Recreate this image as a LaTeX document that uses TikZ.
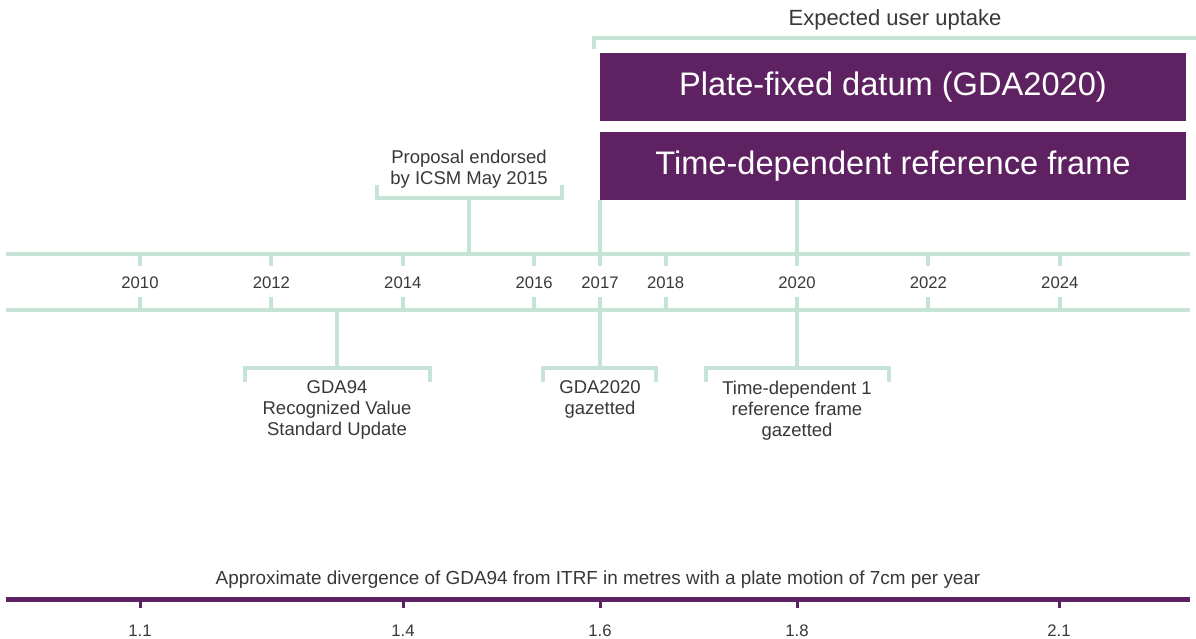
\documentclass[tikz,border=0pt]{standalone}
\usepackage{fontspec}
\setmainfont{Liberation Sans}
\definecolor{mint}{HTML}{C6E4D6}
\definecolor{plum}{HTML}{5E2262}
\definecolor{txt}{HTML}{383838}
\begin{document}
\begin{tikzpicture}[x=1pt,y=-1pt,
  mline/.style={draw=mint, line width=4pt},
  lbl/.style={text=txt, inner sep=0pt, align=center, font=\fontsize{18.5}{21}\selectfont},
  yr/.style={text=txt, inner sep=0pt, font=\fontsize{16.7}{20}\selectfont},
  box/.style={fill=plum, text=white, minimum width=586pt, minimum height=68pt, inner sep=0pt, font=\fontsize{32.6}{38}\selectfont},
  paxis/.style={draw=plum, line width=5pt},
  ptick/.style={draw=plum, line width=3pt},
]
\useasboundingbox (0,0) rectangle (1196,639);

% main timeline rails
\coordinate (tL) at (6,254);  \coordinate (tR) at (1190,254);
\coordinate (bL) at (6,310);  \coordinate (bR) at (1190,310);
\draw[mline] (tL) -- (tR);
\draw[mline] (bL) -- (bR);

% years with ticks
\foreach \yy/\xx in {2010/140,2012/271.4,2014/402.8,2016/534.2,2017/600,2018/665.6,2020/797,2022/928.4,2024/1059.8}{
  \node[yr] (y\yy) at (\xx,283) {\yy};
  \coordinate (ut\yy) at (\xx,254);
  \coordinate (ub\yy) at (\xx,266);
  \coordinate (lt\yy) at (\xx,297);
  \coordinate (lb\yy) at (\xx,310);
  \draw[mline] (ut\yy) -- (ub\yy);
  \draw[mline] (lt\yy) -- (lb\yy);
}

% boxes
\node[box] (pf) at (893,87) {Plate-fixed datum (GDA2020)};
\node[box] (td) at (893,166) {Time-dependent reference frame};
\coordinate (s17) at (600,252);
\coordinate (s20) at (797,252);
\draw[mline] (td.south -| s17) -- (s17);
\draw[mline] (td.south -| s20) -- (s20);

% expected user uptake bracket
\node[text=txt, inner sep=0pt, font=\fontsize{22}{26}\selectfont] (exp) at (895,20) {Expected user uptake};
\coordinate (eL) at (594,49);
\coordinate (eC) at (594,38);
\coordinate (eR) at (1196,38);
\draw[mline] (eL) -- (eC) -- (eR);

% proposal bracket (above)
\node[lbl, anchor=north] (prop) at (469,150) {Proposal endorsed\\by ICSM May 2015};
\coordinate (pL) at (377,185); \coordinate (pLc) at (377,198);
\coordinate (pR) at (562,185); \coordinate (pRc) at (562,198);
\coordinate (pM) at (469,198); \coordinate (p15) at (469,252);
\draw[mline] (pL) -- (pLc) -- (pRc) -- (pR);
\draw[mline] (pM) -- (p15);

% below brackets
\node[lbl, anchor=north] (g94) at (337,380.5) {GDA94\\Recognized Value\\Standard Update};
\coordinate (g94L) at (245,382); \coordinate (g94Lc) at (245,368);
\coordinate (g94R) at (430,382); \coordinate (g94Rc) at (430,368);
\coordinate (g94M) at (337,368); \coordinate (g94T) at (337,312);
\draw[mline] (g94L) -- (g94Lc) -- (g94Rc) -- (g94R);
\draw[mline] (g94M) -- (g94T);

\node[lbl, anchor=north] (g20) at (600,380.5) {GDA2020\\gazetted};
\coordinate (g20L) at (543,382); \coordinate (g20Lc) at (543,368);
\coordinate (g20R) at (656,382); \coordinate (g20Rc) at (656,368);
\coordinate (g20M) at (600,368); \coordinate (g20T) at (600,312);
\draw[mline] (g20L) -- (g20Lc) -- (g20Rc) -- (g20R);
\draw[mline] (g20M) -- (g20T);

\node[lbl, anchor=north] (tdg) at (797,380.5) {Time-dependent 1\\reference frame\\gazetted};
\coordinate (tdL) at (706,382); \coordinate (tdLc) at (706,368);
\coordinate (tdR) at (889,382); \coordinate (tdRc) at (889,368);
\coordinate (tdM) at (797,368); \coordinate (tdT) at (797,312);
\draw[mline] (tdL) -- (tdLc) -- (tdRc) -- (tdR);
\draw[mline] (tdM) -- (tdT);

% divergence axis
\node[text=txt, inner sep=0pt, font=\fontsize{18.9}{22}\selectfont] (dtitle) at (598,580) {Approximate divergence of GDA94 from ITRF in metres with a plate motion of 7cm per year};
\coordinate (aL) at (6,599); \coordinate (aR) at (1190,599);
\draw[paxis] (aL) -- (aR);
\foreach \vv/\xx [count=\i] in {1.1/140,1.4/403,1.6/600,1.8/797,2.1/1059}{
  \coordinate (at\i) at (\xx,599);
  \coordinate (ab\i) at (\xx,608);
  \draw[ptick] (at\i) -- (ab\i);
  \node[yr] (d\i) at (\xx,631) {\vv};
}
\end{tikzpicture}
\end{document}
